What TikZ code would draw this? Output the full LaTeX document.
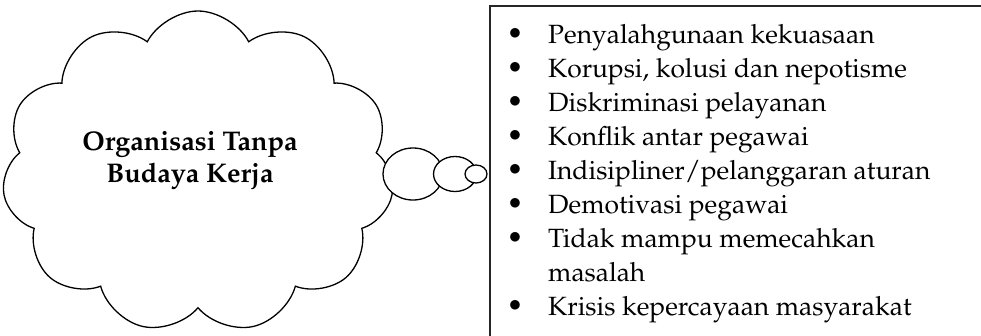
\documentclass[tikz,border=0pt]{standalone}
\usepackage[T1]{fontenc}
\usepackage{palatino}
\usetikzlibrary{shapes.symbols,shapes.geometric}

\newcommand{\blt}{\makebox[16pt]{\raisebox{3.5pt}{\fontsize{32}{32}\selectfont$\bullet$}}}

\begin{document}
\begin{tikzpicture}[x=1pt, y=-1pt,
cloudnode/.style={cloud, cloud puffs=11, cloud puff arc=125, aspect=1.25, draw=black, line width=1.3pt, minimum width=392pt, minimum height=322pt},
bubble/.style={ellipse, draw=black, line width=1.3pt, fill=white, inner sep=0pt},
listbox/.style={rectangle, draw=black!85, line width=1.5pt, minimum width=540pt, minimum height=360pt},
]
\useasboundingbox (0,0) rectangle (981,335);
\clip (0,0) rectangle (981,335);

%Nodes
\node[cloudnode] (cloud) at (198,172) {};
\node[font=\bfseries\fontsize{27}{32}\selectfont, align=center] (title) at (190,161) {Organisasi Tanpa\\Budaya Kerja};
\node[bubble, minimum width=60pt, minimum height=52pt] (big)   at (413,174) {};
\node[bubble, minimum width=43pt, minimum height=35pt] (mid)   at (455,174) {};
\node[bubble, minimum width=22pt, minimum height=18pt] (small) at (476,174) {};
\node[listbox, anchor=north west] (frame) at (489,5) {};
\node[anchor=base west, inner sep=0pt, font=\fontsize{26.4}{34}\selectfont] (list) at (507,43) {%
\begin{tabular}[t]{@{}c@{\hspace{25pt}}l@{}}
\blt & Penyalahgunaan kekuasaan\\
\blt & Korupsi, kolusi dan nepotisme\\
\blt & Diskriminasi pelayanan\\
\blt & Konflik antar pegawai\\
\blt & Indisipliner/pelanggaran aturan\\
\blt & Demotivasi pegawai\\
\blt & Tidak mampu memecahkan\\
     & masalah\\
\blt & Krisis kepercayaan masyarakat
\end{tabular}};
\end{tikzpicture}
\end{document}
